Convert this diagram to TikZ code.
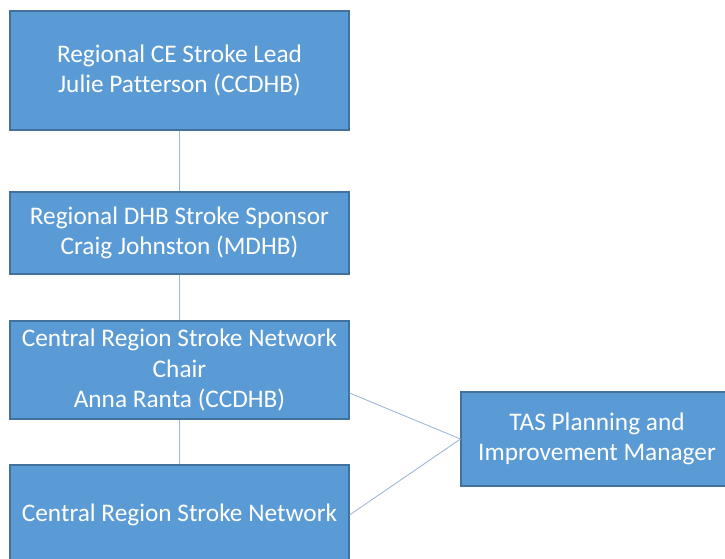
\documentclass[tikz,border=0pt]{standalone}
\usepackage{fontspec}
\setmainfont{Carlito}[Ligatures=NoCommon]
\usepackage{tikz}
\usepackage{xcolor}
\usetikzlibrary{positioning}

\definecolor{boxfill}{HTML}{5B9BD5}
\definecolor{boxline}{HTML}{41719C}
\definecolor{linkline}{HTML}{9FB6DA}

\begin{document}
\begin{tikzpicture}[x=1cm,y=1cm,
  role/.style={draw=boxline,line width=0.6pt,fill=boxfill,text=white,
    align=center,inner sep=0pt,font=\fontsize{14.4}{17.1}\selectfont},
  link/.style={draw=linkline,line width=0.5pt}]
  \clip (0,0) rectangle (14.5,11.16);
  \node[role,minimum width=6.78cm,minimum height=2.38cm] (lead) at (3.59,9.75)
    {Regional CE Stroke Lead\\Julie Patterson (CCDHB)};
  \node[role,minimum width=6.78cm,minimum height=1.64cm] (sponsor) at (3.59,6.50)
    {Regional DHB Stroke Sponsor\\Craig Johnston (MDHB)};
  \node[role,minimum width=6.78cm,minimum height=1.96cm] (chair) at (3.59,3.76)
    {Central Region Stroke Network\\Chair\\Anna Ranta (CCDHB)};
  \node[role,minimum width=6.78cm,minimum height=2.00cm] (network) at (3.59,0.86)
    {Central Region Stroke Network};
  \node[role,minimum width=5.44cm,minimum height=1.88cm] (tas) at (11.94,2.38)
    {TAS Planning and\\Improvement Manager};
  \draw[link] (lead) -- (sponsor);
  \draw[link] (sponsor) -- (chair);
  \draw[link] (chair) -- (network);
  \draw[link] ([yshift=-0.46cm]chair.east) -- (tas.west);
  \draw[link] (network.east) -- (tas.west);
\end{tikzpicture}
\end{document}
